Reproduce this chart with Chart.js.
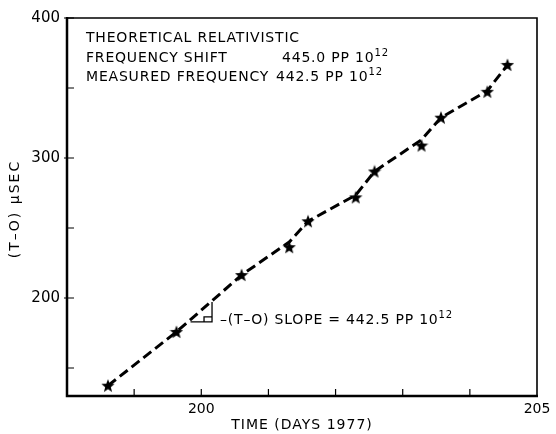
<!DOCTYPE html>
<html>
<head>
<meta charset="utf-8">
<script src="https://cdn.jsdelivr.net/npm/chart.js@4/dist/chart.umd.min.js"></script>
<style>
html,body{margin:0;padding:0;background:#fff;}
#wrap{width:556px;height:434px;position:relative;}
</style>
</head>
<body>
<div id="wrap"><canvas id="c" width="556" height="434"></canvas></div>
<script>
// Measured points (stars)
const days = [198.61, 199.63, 200.60, 201.31, 201.59, 202.30, 202.58, 203.28, 203.57, 204.26, 204.56];
const offsets = [137.4, 175.8, 216.4, 236.3, 254.8, 271.9, 290.4, 308.9, 328.8, 347.3, 366.5];
// Dashed fitted trace
const fitDays = [198.61, 199.63, 200.60, 201.31, 201.59, 202.30, 202.58, 203.28, 203.57, 204.26, 204.56];
const fitOffsets = [137.4, 175.8, 216.4, 240.0, 254.8, 273.5, 290.4, 313.0, 328.8, 348.0, 366.5];
// Axis ticks
const xTickLabels = [200, 205];
const yTickLabels = [200, 300, 400];
const xMinorTicks = [199, 200, 201, 202, 203, 204];
const yMinorTicks = [150, 200, 250, 300, 350, 400];
// Slope triangle (data coords)
const triDays = [199.84, 200.16, 200.16];
const triOffsets = [182.9, 182.9, 197.2];

const FONT = '"DejaVu Sans", Verdana, sans-serif';

function makeStar(size){
  const c = document.createElement('canvas');
  c.width = size; c.height = size;
  const g = c.getContext('2d');
  const cx = size/2, cy = size/2 + 0.5, R = size/2, r = R*0.42;
  g.beginPath();
  for (let i=0;i<10;i++){
    const a = -Math.PI/2 + i*Math.PI/5;
    const rr = i%2===0 ? R : r;
    const px = cx + rr*Math.cos(a), py = cy + rr*Math.sin(a);
    if(i===0) g.moveTo(px,py); else g.lineTo(px,py);
  }
  g.closePath();
  g.fillStyle = '#000';
  g.fill();
  return c;
}
const star = makeStar(14);

const stars = days.map((d,i)=>({x:d,y:offsets[i]}));
const fit = fitDays.map((d,i)=>({x:d,y:fitOffsets[i]}));

const framePlugin = {
  id:'frame',
  afterDraw(chart){
    const ctx = chart.ctx, a = chart.chartArea;
    const xs = chart.scales.x, ys = chart.scales.y;
    ctx.save();
    ctx.strokeStyle = '#000';
    ctx.lineCap = 'butt';
    ctx.lineWidth = 1.6;
    ctx.beginPath();
    ctx.moveTo(a.left, a.top); ctx.lineTo(a.right, a.top); ctx.lineTo(a.right, a.bottom);
    ctx.stroke();
    ctx.lineWidth = 2.5;
    ctx.beginPath();
    ctx.moveTo(a.left, a.top-1); ctx.lineTo(a.left, a.bottom); ctx.lineTo(a.right+1, a.bottom);
    ctx.stroke();
    ctx.lineWidth = 1.2;
    ctx.beginPath();
    xMinorTicks.forEach(v=>{
      const p = xs.getPixelForValue(v);
      ctx.moveTo(p, a.bottom); ctx.lineTo(p, a.bottom-7);
    });
    yMinorTicks.forEach(v=>{
      const p = ys.getPixelForValue(v);
      const out = yTickLabels.includes(v) ? 3 : 0;
      ctx.moveTo(a.left-out, p); ctx.lineTo(a.left+7, p);
    });
    ctx.stroke();
    // slope triangle
    ctx.lineWidth = 1.3;
    ctx.beginPath();
    triDays.forEach((d,i)=>{
      const px = xs.getPixelForValue(d), py = ys.getPixelForValue(triOffsets[i]);
      if(i===0) ctx.moveTo(px,py); else ctx.lineTo(px,py);
    });
    ctx.stroke();
    const bx = xs.getPixelForValue(triDays[1]), by = ys.getPixelForValue(triOffsets[1]);
    ctx.beginPath();
    ctx.moveTo(bx-8, by); ctx.lineTo(bx-8, by-5); ctx.lineTo(bx, by-5);
    ctx.stroke();

    // text annotations
    ctx.fillStyle = '#000';
    ctx.textBaseline = 'middle';
    ctx.textAlign = 'left';
    ctx.letterSpacing = '0.8px';
    const main = '14px ' + FONT, sup = '10px ' + FONT;
    function txt(s, x, y, supText){
      ctx.font = main;
      ctx.fillText(s, x, y);
      if(supText){
        const w = ctx.measureText(s).width;
        ctx.font = sup;
        ctx.fillText(supText, x + w, y - 5);
      }
    }
    const L = a.left;
    txt('THEORETICAL RELATIVISTIC', L+19, 38);
    txt('FREQUENCY SHIFT', L+19, 58);
    txt('445.0 PP 10', 282, 58, '12');
    txt('MEASURED FREQUENCY', L+19, 77);
    txt('442.5 PP 10', 276, 77, '12');
    txt('\u2013(T\u2013O) SLOPE = 442.5 PP 10', bx+8, by-2, '12');

    // axis titles
    ctx.textAlign = 'center';
    ctx.font = '14px ' + FONT;
    ctx.letterSpacing = '1px';
    ctx.fillText('TIME (DAYS 1977)', (a.left+a.right)/2, 425);
    ctx.save();
    ctx.translate(15, (a.top+a.bottom)/2 + 2);
    ctx.rotate(-Math.PI/2);
    ctx.letterSpacing = '2px';
    ctx.fillText('(T\u2013O) \u00b5SEC', 0, 0);
    ctx.restore();
    ctx.restore();
  }
};

new Chart(document.getElementById('c'), {
  type:'scatter',
  data:{
    datasets:[
      {data:stars, pointStyle:star, pointRadius:7, showLine:false, borderColor:'#000', backgroundColor:'#000'},
      {data:fit, showLine:true, borderColor:'#000', borderWidth:3, borderDash:[10,5], pointRadius:0, fill:false, tension:0}
    ]
  },
  options:{
    responsive:false,
    animation:false,
    events:[],
    layout:{padding:{left:0,right:19,top:18,bottom:0}},
    plugins:{legend:{display:false},tooltip:{enabled:false}},
    scales:{
      x:{
        type:'linear', min:198, max:205,
        grid:{display:false, drawTicks:false}, border:{display:false},
        afterFit(s){ s.height = 38; },
        ticks:{stepSize:1, autoSkip:false, maxRotation:0, padding:5, color:'#000',
          font:{family:FONT, size:14},
          callback:v=> xTickLabels.includes(v) ? String(v) : ''},
        title:{display:false}
      },
      y:{
        type:'linear', min:130, max:400,
        grid:{display:false, drawTicks:false}, border:{display:false},
        afterFit(s){ s.width = 67; },
        ticks:{stepSize:50, padding:7, color:'#000',
          font:{family:FONT, size:15},
          callback:v=> yTickLabels.includes(v) ? String(v) : ''},
        title:{display:false}
      }
    }
  },
  plugins:[framePlugin]
});
</script>
</body>
</html>
